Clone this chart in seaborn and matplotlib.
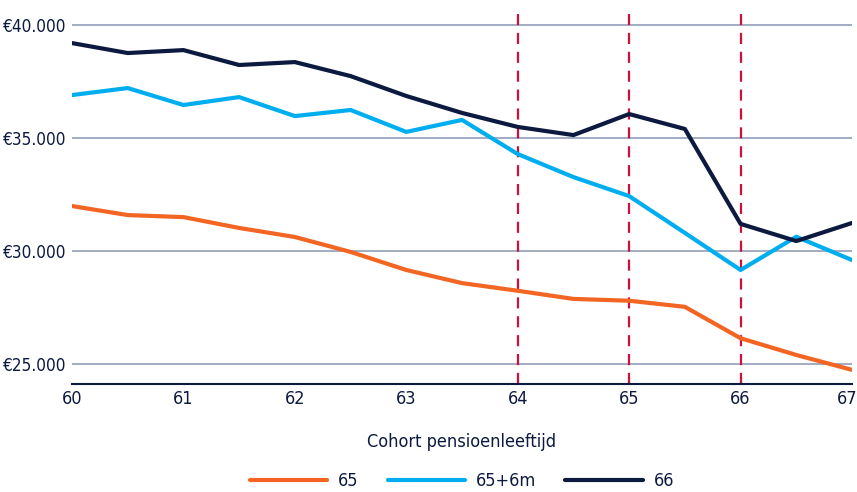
import matplotlib
matplotlib.use("Agg")
import matplotlib.pyplot as plt
import matplotlib.ticker as mticker
import matplotlib.transforms as mtransforms
import seaborn as sns
import pandas as pd

x_vals = [60, 60.5, 61, 61.5, 62, 62.5, 63, 63.5, 64, 64.5, 65, 65.5, 66, 66.5, 67]
s65 = [31990, 31590, 31500, 31020, 30620, 29960, 29160, 28580, 28240, 27880, 27800, 27530, 26140, 25400, 24740]
s65_6m = [36900, 37210, 36460, 36810, 35970, 36240, 35270, 35800, 34290, 33270, 32430, 30800, 29160, 30630, 29600]
s66 = [39200, 38760, 38890, 38230, 38360, 37740, 36860, 36110, 35490, 35130, 36060, 35400, 31200, 30440, 31240]
series_names = ["65", "65+6m", "66"]
y_ticks = [25000, 30000, 35000, 40000]
x_ticks = [60, 61, 62, 63, 64, 65, 66, 67]
cohort_lines = [64, 65, 66]

df = pd.DataFrame({
    "x": x_vals * 3,
    "y": s65 + s65_6m + s66,
    "reeks": [series_names[0]] * len(x_vals) + [series_names[1]] * len(x_vals) + [series_names[2]] * len(x_vals),
})

sns.set_theme(style="white")
plt.rcParams["font.family"] = ["DejaVu Sans"]
plt.rcParams["font.stretch"] = "condensed"

navy = "#0c1a40"
palette = {"65": "#f26522", "65+6m": "#00aeef", "66": navy}
fs = 13

fig = plt.figure(figsize=(8.57, 4.92), dpi=100)
ax = fig.add_axes([72 / 857, 1 - 384 / 492, (852 - 72) / 857, (384 - 11) / 492])

for yt in y_ticks:
    ax.axhline(yt, color="#9aa5bd", lw=1.3, zorder=0)
for cx in cohort_lines:
    ax.axvline(cx, color="#d0103a", lw=1.6, ls=(0, (5, 3.5)), zorder=1)

sns.lineplot(data=df, x="x", y="y", hue="reeks", palette=palette, lw=3, ax=ax, legend=True, zorder=3)

ax.set_xlim(60, 67)
ax.set_ylim(24115, 40620)
ax.set_xticks(x_ticks)
ax.set_yticks(y_ticks)
ax.yaxis.set_major_formatter(mticker.FuncFormatter(lambda v, p: "€" + f"{int(v):,}".replace(",", ".")))
ax.tick_params(axis="x", length=0, labelsize=fs, colors=navy, pad=4)
ax.tick_params(axis="y", length=0, labelsize=12.3, colors=navy, pad=4)
for s in ["top", "right", "left"]:
    ax.spines[s].set_visible(False)
ax.spines["bottom"].set_color(navy)
ax.spines["bottom"].set_linewidth(1.5)
ax.set_xlabel("Cohort pensioenleeftijd", fontsize=fs, color=navy, labelpad=18)
ax.set_ylabel("")

# keep the last x tick label inside the figure
last = ax.get_xticklabels()[-1]
last.set_transform(last.get_transform() + mtransforms.ScaledTranslation(-5 / 100, 0, fig.dpi_scale_trans))

handles, labels = ax.get_legend_handles_labels()
leg = ax.legend(handles, labels, loc="center", bbox_to_anchor=(0.5, -(481 - 384) / 373), ncol=3,
                frameon=False, fontsize=fs, handlelength=4.3, columnspacing=1.6, handletextpad=0.6,
                borderaxespad=0)
for t in leg.get_texts():
    t.set_color(navy)

fig.savefig("out.png", dpi=100)
